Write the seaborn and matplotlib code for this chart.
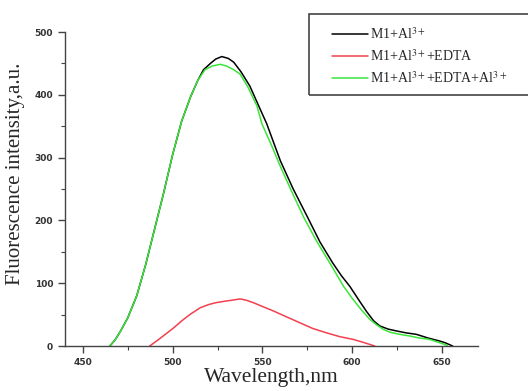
import matplotlib
matplotlib.use("Agg")
import matplotlib.pyplot as plt
import seaborn as sns
import pandas as pd
from matplotlib.ticker import MultipleLocator
from matplotlib.lines import Line2D
from matplotlib.patches import Rectangle

# Data
wl_black = [465, 468, 471, 475, 480, 485, 490, 495, 500, 505, 510, 514, 517.2, 521, 524, 527.4, 531, 534, 538, 543,
            548, 552.4, 556, 560, 567, 575, 582, 589, 594, 598.7, 604, 608, 612, 615.4, 620, 624.7, 630, 635.8, 642, 648.7, 652, 656]
int_black = [0, 10, 24, 45, 80, 130, 187, 244, 305, 358, 397, 423, 440, 450, 457, 461, 458, 452, 437, 414,
             382, 354, 326, 295, 251, 206, 166, 133, 112, 95, 72, 55, 40, 32, 27, 24, 21, 18.6, 13, 8, 5, 0]

wl_red = [487.2, 492, 497, 500.6, 505, 510, 515.4, 520, 524, 528.3, 533, 537.6, 541, 545, 550, 556, 563, 570.9, 578, 585.7, 593, 600.5, 606, 612.6]
int_red = [0, 10, 21, 29, 40, 51, 61, 66, 69, 71, 73, 75, 73, 69, 63, 56, 47, 37, 28, 21, 15, 10.6, 6, 0]

wl_green = [465, 468, 471, 475, 480, 485, 490, 495, 500, 505, 510, 514, 518, 522, 526.5, 530, 534, 537.6,
            542, 547, 549.7, 555, 560, 566, 573, 580, 588, 595, 600, 605, 610, 613.5, 617.3, 621, 626.5, 632, 637, 643, 648, 653]
int_green = [0, 10, 24, 45, 80, 130, 187, 244, 305, 358, 397, 423, 440, 446, 448.6, 446, 440, 433,
             412, 382, 354, 320, 286, 248, 205, 168, 130, 96, 76, 58, 42, 34, 26.6, 22, 18.6, 16, 13, 10.6, 6, 1]

labels = ["M1+Al$^{3+}$", "M1+Al$^{3+}$+EDTA", "M1+Al$^{3+}$+EDTA+Al$^{3+}$"]
colors = ["#000000", "#f2404e", "#3ae63a"]

df = pd.concat([
    pd.DataFrame({"wl": wl_black, "I": int_black, "s": labels[0]}),
    pd.DataFrame({"wl": wl_red, "I": int_red, "s": labels[1]}),
    pd.DataFrame({"wl": wl_green, "I": int_green, "s": labels[2]}),
])

sns.set_style("ticks")
plt.rcParams["mathtext.fontset"] = "stix"

fig = plt.figure(figsize=(5.28, 3.91), dpi=100)
ax = fig.add_axes([0.123, 0.115, 0.782, 0.803])

sns.lineplot(data=df, x="wl", y="I", hue="s", palette=dict(zip(labels, colors)),
             sort=False, estimator=None, linewidth=1.1, ax=ax, legend=False)

ax.set_xlim(440, 670)
ax.set_ylim(0, 500)
ax.xaxis.set_major_locator(MultipleLocator(50))
ax.xaxis.set_minor_locator(MultipleLocator(25))
ax.yaxis.set_major_locator(MultipleLocator(100))
ax.yaxis.set_minor_locator(MultipleLocator(50))

for side in ["top", "right"]:
    ax.spines[side].set_visible(False)
for side in ["left", "bottom"]:
    ax.spines[side].set_color("#444444")
    ax.spines[side].set_linewidth(1.0)

ax.tick_params(which="major", length=5, width=1, color="#444444", labelsize=6.5,
               labelcolor="#333333", direction="out")
ax.tick_params(which="minor", length=3, width=0.8, color="#444444", direction="out")
for lab in ax.get_xticklabels() + ax.get_yticklabels():
    lab.set_fontweight("bold")
    lab.set_family("DejaVu Sans")

ax.set_xlabel("Wavelength,nm", family="Liberation Serif", fontsize=15.5, labelpad=1)
ax.set_ylabel("Fluorescence intensity,a.u.", family="Liberation Serif", fontsize=15)
ax.yaxis.set_label_coords(-0.097, 0.548)

# legend frame (extends past the right edge as in the reference)
W, H = 528.0, 391.0
fig.patches.append(Rectangle((309 / W, 1 - 95 / H), (540 - 309) / W, (95 - 14) / H,
                             transform=fig.transFigure, fill=False, edgecolor="#444444",
                             linewidth=1.2, zorder=5))

handles = [Line2D([], [], color=c, linewidth=1.1) for c in colors]
leg = fig.legend(handles, labels, loc="upper left", bbox_to_anchor=(332 / W, 1 - 26 / H),
                 prop={"family": "Liberation Serif", "size": 10}, frameon=False,
                 handlelength=2.6, handletextpad=0.15, labelspacing=0.45,
                 borderpad=0, borderaxespad=0)

fig.savefig("out.png", dpi=100)
